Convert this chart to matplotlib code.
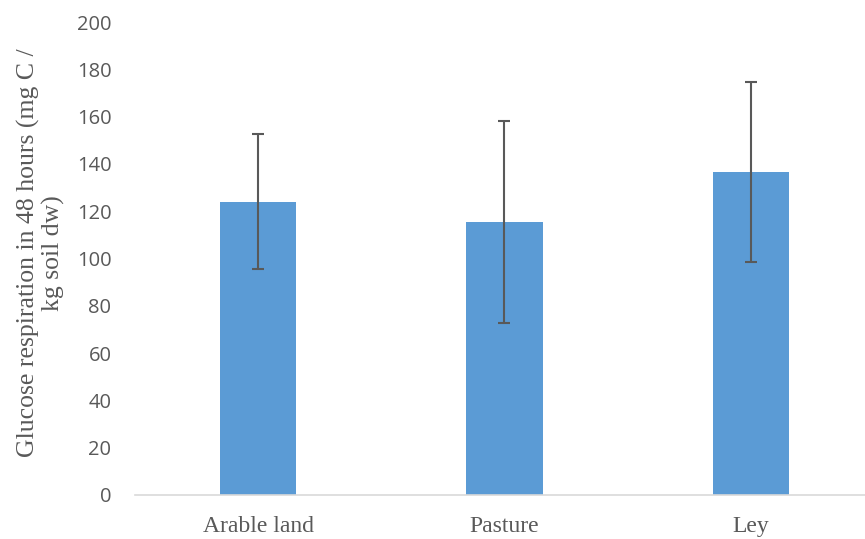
import matplotlib
matplotlib.use("Agg")
import matplotlib.pyplot as plt

# data
categories = ["Arable land", "Pasture", "Ley"]
respiration = [124.0, 115.4, 136.6]
errors = [28.6, 42.6, 37.9]
yticks = [0, 20, 40, 60, 80, 100, 120, 140, 160, 180, 200]

fig = plt.figure(figsize=(8.65, 5.39), dpi=100)
ax = fig.add_axes([135 / 865, 44 / 539, 739 / 865, 473 / 539])

x = range(len(categories))
ax.bar(x, respiration, width=0.31, color="#5B9BD5", zorder=2)
ax.errorbar(x, respiration, yerr=errors, fmt="none", ecolor="#595959",
            elinewidth=1.5, capsize=4.5, capthick=1.5, zorder=3)

ax.set_xlim(-0.5, 2.5)
ax.set_ylim(0, 200)
ax.set_yticks(yticks)
ax.set_yticklabels([str(v) for v in yticks], family="Open Sans",
                   fontsize=14.5, color="#595959")
ax.set_xticks(list(x))
ax.set_xticklabels(categories, family="Liberation Serif",
                   fontsize=17, color="#595959")
ax.tick_params(axis="y", length=0, pad=17)
ax.tick_params(axis="x", length=0, pad=15)

for side in ["top", "right", "left"]:
    ax.spines[side].set_visible(False)
ax.spines["bottom"].set_color("#D9D9D9")
ax.spines["bottom"].set_linewidth(1.2)

fig.text(41 / 865, 1 - 253 / 539,
         "Glucose respiration in 48 hours (mg C /\nkg soil dw)",
         rotation=90, ha="center", va="center", family="Liberation Serif",
         fontsize=18.5, color="#595959", linespacing=1.15)

plt.savefig("out.png", dpi=100)
